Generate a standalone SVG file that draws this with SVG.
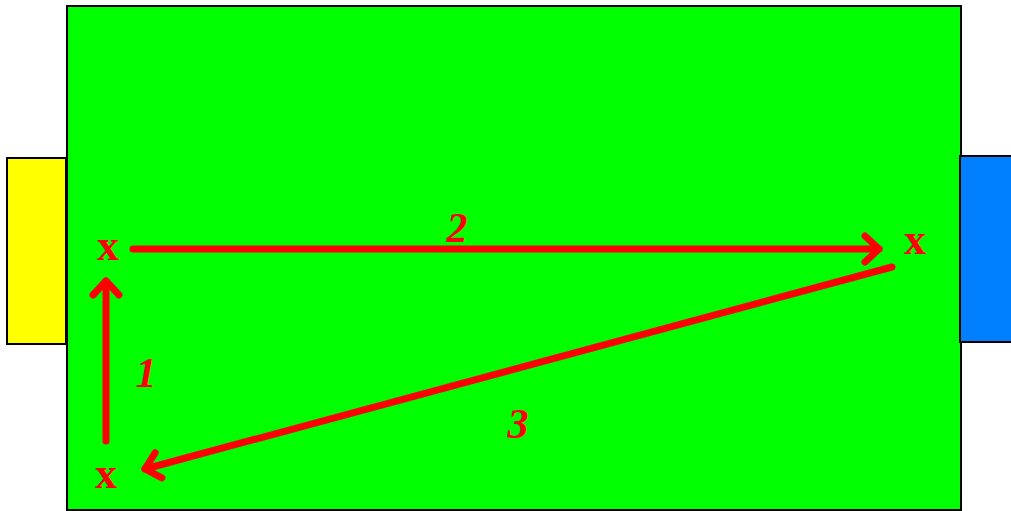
<svg xmlns="http://www.w3.org/2000/svg" width="1011" height="511" viewBox="0 0 1011 511">
<style>
.goal{stroke:#000;stroke-width:2}
.arr{stroke:#ff0000;stroke-width:7;fill:none;stroke-linecap:round}
.x{font-family:"Liberation Serif",serif;font-weight:bold;font-size:44px;fill:#ff0000;text-anchor:middle}
.n{font-family:"Liberation Serif",serif;font-weight:bold;font-style:italic;font-size:42px;fill:#ff0000;text-anchor:middle}
</style>
<defs>
<marker id="chev" markerUnits="userSpaceOnUse" viewBox="-20 -18 26 36" markerWidth="26" markerHeight="36" refX="0" refY="0" orient="auto">
<polyline points="-14,-13 0,0 -14,13" fill="none" stroke="#ff0000" stroke-width="7" stroke-linecap="round" stroke-linejoin="round"/>
</marker>
</defs>
<rect width="1011" height="511" fill="#fff"/>
<g id="field"><rect x="67" y="6" width="894" height="504" fill="#00ff00" stroke="#000" stroke-width="2"/></g>
<g id="goal-left"><rect class="goal" x="7" y="158" width="59" height="186" fill="#ffff00"/></g>
<g id="goal-right"><rect class="goal" x="960" y="156" width="60" height="186" fill="#0080ff"/></g>
<g id="connectors">
<line class="arr" x1="106" y1="441" x2="106" y2="281" marker-end="url(#chev)"/>
<line class="arr" x1="133" y1="249" x2="879" y2="249" marker-end="url(#chev)"/>
<line class="arr" x1="892" y1="267" x2="145" y2="469" marker-end="url(#chev)"/>
</g>
<g id="p1"><text class="x" x="108" y="260">x</text></g>
<g id="p2"><text class="x" x="915" y="254">x</text></g>
<g id="p3"><text class="x" x="106" y="488">x</text></g>
<g id="l1"><text class="n" x="146" y="387">1</text></g>
<g id="l2"><text class="n" x="457" y="242">2</text></g>
<g id="l3"><text class="n" x="518" y="438">3</text></g>
</svg>
